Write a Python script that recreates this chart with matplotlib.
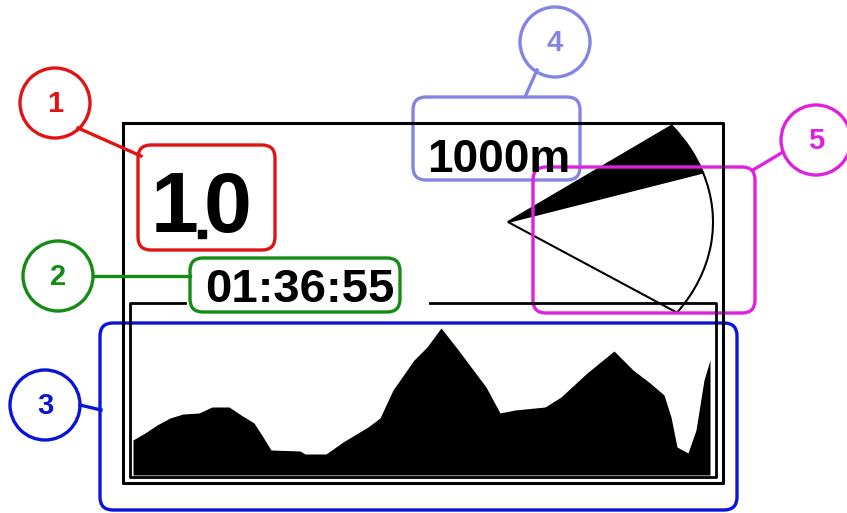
import matplotlib
matplotlib.use("Agg")
import matplotlib.pyplot as plt
from matplotlib.patches import Circle, FancyBboxPatch, Wedge
from matplotlib.transforms import Affine2D

# elevation profile (distance along track, height above profile floor)
distance = [0, 12, 24, 37, 50, 66, 79, 96, 108, 121, 130, 138, 167, 172, 193,
            210, 235, 247, 260, 281, 294, 308, 323, 338, 353, 367, 382, 412,
            428, 454, 481, 500, 517, 531, 538, 544, 555, 563, 571, 577]
elevation = [35, 42, 50, 57, 61, 62, 68, 68, 60, 52, 38, 25, 24, 21, 21,
             33, 48, 57, 85, 115, 128, 147, 128, 108, 88, 62, 65, 68,
             78, 102, 124, 105, 92, 80, 58, 28, 22, 45, 95, 115]

# display readouts
zoom_value = ["1", "0"]
elapsed = "01:36:55"
scale_label = "1000m"

# view cone: sector angles (deg, on the cone's ellipse) shaded / open part
cone_shaded = [-37.0, -18.0]
cone_open = [-18.0, 34.5]

# callouts
callout_labels = ["1", "2", "3", "4", "5"]
callout_colors = ["#e01414", "#148c14", "#0a14d8", "#8484e6", "#e020e0"]

FONT = ["Liberation Sans", "DejaVu Sans"]

fig = plt.figure(figsize=(8.47, 5.13), dpi=100)
ax = fig.add_axes([0, 0, 1, 1])
ax.set_xlim(0, 847)
ax.set_ylim(513, 0)
ax.axis("off")

# device frame
ax.plot([123, 723, 723, 123, 123], [123, 123, 483, 483, 123], color="black", lw=2.2)
ax.plot([185, 130, 130, 716, 716, 430], [303, 303, 477, 477, 303, 303], color="black", lw=2.0)

# profile
pax = fig.add_axes([133 / 847, (513 - 475) / 513, 579 / 847, 170 / 513])
pax.fill_between(distance, elevation, 0, color="black", lw=0)
pax.set_xlim(0, 579)
pax.set_ylim(0, 170)
pax.axis("off")

# zoom readout
ax.text(175, 232, zoom_value[0], fontsize=62, fontweight="bold", family=FONT,
        ha="center", va="baseline")
ax.text(228, 232, zoom_value[1], fontsize=62, fontweight="bold", family=FONT,
        ha="center", va="baseline")
ax.plot([202], [234], marker="s", ms=6, color="black")

# time
ax.text(300, 302, elapsed, fontsize=34, fontweight="bold", family=FONT,
        ha="center", va="baseline")

# scale
ax.text(499, 172, scale_label, fontsize=33, fontweight="bold", family=FONT,
        ha="center", va="baseline")

# view cone (sector of a flattened circle around the apex)
cone_tf = Affine2D().scale(205, 160).translate(508, 222) + ax.transData
ax.add_patch(Wedge((0, 0), 1, cone_shaded[0], cone_shaded[1], facecolor="black",
                   edgecolor="black", lw=1.5, transform=cone_tf))
ax.add_patch(Wedge((0, 0), 1, cone_open[0], cone_open[1], facecolor="white",
                   edgecolor="black", lw=1.5, transform=cone_tf))

# callout boxes
boxes = [(138, 145, 137, 105), (190, 258, 210, 54), (100, 323, 637, 187),
         (413, 97, 167, 83), (533, 167, 222, 146)]
circles = [(55, 103), (58, 276), (45, 405), (555, 42), (816, 140)]
leaders = [[(78, 128), (141, 156)], [(93, 276), (190, 276)],
           [(80, 405), (101, 410)], [(537, 70), (525, 97)],
           [(783, 152), (753, 170)]]

for lab, col, (bx, by, bw, bh), (cx, cy), ld in zip(callout_labels, callout_colors,
                                                    boxes, circles, leaders):
    ax.add_patch(FancyBboxPatch((bx, by), bw, bh,
                                boxstyle="round,pad=0,rounding_size=13",
                                fill=False, edgecolor=col, lw=2.4))
    ax.add_patch(Circle((cx, cy), 35, fill=False, edgecolor=col, lw=2.4))
    ax.plot([ld[0][0], ld[1][0]], [ld[0][1], ld[1][1]], color=col, lw=2.4)
    ax.text(cx, cy + 1, lab, color=col, fontsize=21, fontweight="bold",
            family=FONT, ha="center", va="center")

fig.savefig("out.png", dpi=100)
